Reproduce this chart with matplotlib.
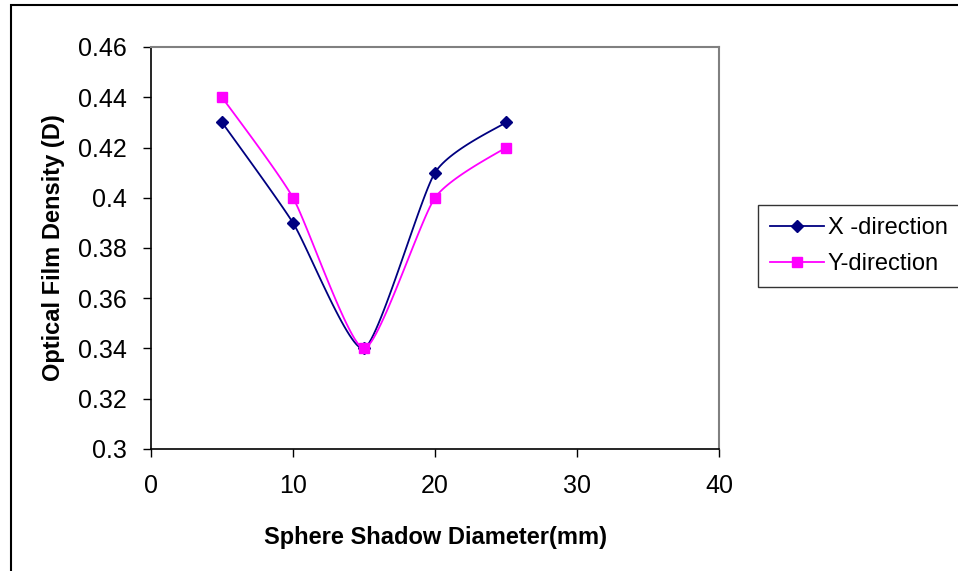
import numpy as np
import matplotlib
matplotlib.use("Agg")
import matplotlib.pyplot as plt
from matplotlib.patches import Rectangle

plt.rcParams["font.family"] = ["Liberation Sans", "DejaVu Sans"]

diameter = [5, 10, 15, 20, 25]
x_dir = [0.43, 0.39, 0.34, 0.41, 0.43]
y_dir = [0.44, 0.40, 0.34, 0.40, 0.42]

XLIM = (0, 40)
YLIM = (0.3, 0.46)
AX_W, AX_H = 569.0, 402.0   # plot area size in px, used to smooth in screen space


def smooth(xs, ys, n=30, k=10.0):
    # Excel-style smoothed line: cubic bezier, mild catmull-rom handles
    sx = AX_W / (XLIM[1] - XLIM[0])
    sy = AX_H / (YLIM[1] - YLIM[0])
    p = np.column_stack([np.asarray(xs, float) * sx, np.asarray(ys, float) * sy])
    pts = np.vstack([p[0], p, p[-1]])
    out = []
    t = np.linspace(0, 1, n)[:, None]
    for i in range(1, len(pts) - 2):
        p0, p1, p2, p3 = pts[i - 1], pts[i], pts[i + 1], pts[i + 2]
        c1 = p1 + (p2 - p0) / k
        c2 = p2 - (p3 - p1) / k
        seg = ((1 - t) ** 3) * p1 + 3 * ((1 - t) ** 2) * t * c1 + 3 * (1 - t) * t ** 2 * c2 + t ** 3 * p2
        out.append(seg if i == 1 else seg[1:])
    out = np.vstack(out)
    return out[:, 0] / sx, out[:, 1] / sy


fig = plt.figure(figsize=(9.58, 5.71), dpi=100)
ax = fig.add_axes([151 / 958, 1 - 449 / 571, 568 / 958, 402 / 571])

# outer chart border (left and top visible)
fig.patches.append(Rectangle((11 / 958, -0.01), 1.0, 1 - 5 / 571 + 0.01, transform=fig.transFigure,
                             fill=False, edgecolor="black", linewidth=1.5))

sx_x, sx_y = smooth(diameter, x_dir)
ax.plot(sx_x, sx_y, color="#000080", lw=1.3)
ax.plot(diameter, x_dir, ls="none", marker="D", ms=6, color="#000080")
sy_x, sy_y = smooth(diameter, y_dir)
ax.plot(sy_x, sy_y, color="#FF00FF", lw=1.3)
ax.plot(diameter, y_dir, ls="none", marker="s", ms=6.5, color="#FF00FF")

ax.set_xlim(*XLIM)
ax.set_ylim(*YLIM)
ax.set_xticks([0, 10, 20, 30, 40])
ax.set_yticks([0.3, 0.32, 0.34, 0.36, 0.38, 0.4, 0.42, 0.44, 0.46])
ax.set_yticklabels(["0.3", "0.32", "0.34", "0.36", "0.38", "0.4", "0.42", "0.44", "0.46"])
ax.tick_params(direction="out", length=6, width=1, labelsize=18, pad=11.5)
ax.tick_params(axis="x", pad=12)
for s in ("top", "right"):
    ax.spines[s].set_color("#808080")
    ax.spines[s].set_linewidth(1.5)
for s in ("left", "bottom"):
    ax.spines[s].set_linewidth(1.2)

ax.set_xlabel("Sphere Shadow Diameter(mm)", fontsize=17, fontweight="bold", labelpad=20)
ax.set_ylabel("Optical Film Density (D)", fontsize=17, fontweight="bold", labelpad=9)

# legend
h1, = ax.plot([], [], color="#000080", marker="D", ms=6, lw=1.3)
h2, = ax.plot([], [], color="#FF00FF", marker="s", ms=6.5, lw=1.3)
leg = fig.legend([h1, h2], ["X -direction", "Y-direction"], loc="upper left",
                 bbox_to_anchor=(758 / 958, 1 - 205 / 571), fontsize=17, frameon=True,
                 fancybox=False, edgecolor="black", handlelength=2.3, borderpad=0.5,
                 labelspacing=0.6, handletextpad=0.15, borderaxespad=0)
leg.get_frame().set_linewidth(1.0)

fig.savefig("out.png", dpi=100)
